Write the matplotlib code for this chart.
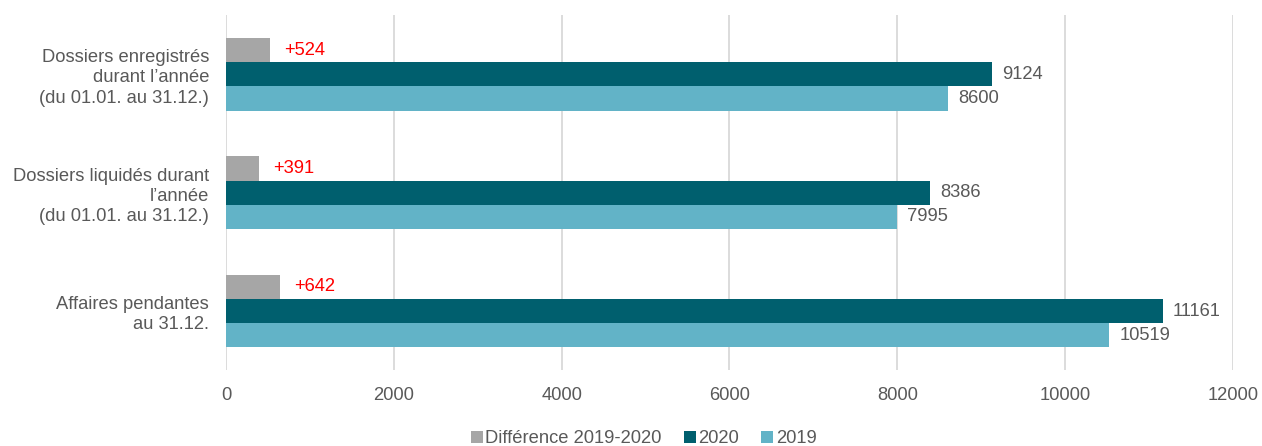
import numpy as np
import matplotlib.pyplot as plt

categories = ["Dossiers enregistrés\ndurant l\u2019année\n(du 01.01. au 31.12.)",
              "Dossiers liquidés durant\nl\u2019année\n(du 01.01. au 31.12.)",
              "Affaires pendantes\nau 31.12."]
diff = [524, 391, 642]
y2020 = [9124, 8386, 11161]
y2019 = [8600, 7995, 10519]
diff_labels = ["+524", "+391", "+642"]

plt.rcParams['font.family'] = ['Liberation Sans', 'DejaVu Sans']
txt = "#595959"
fs = 13.2

fig = plt.figure(figsize=(12.62, 4.46), dpi=100)
ax = fig.add_axes([0.179, 0.170, 0.798, 0.796])

pos = np.arange(len(categories))
h = 0.205
b1 = ax.barh(pos - h, diff, height=h, color="#A6A6A6", label="Différence 2019-2020")
b2 = ax.barh(pos, y2020, height=h, color="#005F6E", label="2020")
b3 = ax.barh(pos + h, y2019, height=h, color="#62B3C7", label="2019")

for i in range(len(categories)):
    ax.text(diff[i] + 170, pos[i] - h, diff_labels[i], color="red", fontsize=fs, va="center")
    ax.text(y2020[i] + 125, pos[i], str(y2020[i]), color=txt, fontsize=fs, va="center")
    ax.text(y2019[i] + 125, pos[i] + h, str(y2019[i]), color=txt, fontsize=fs, va="center")

ax.set_xlim(0, 12000)
ax.set_ylim(2.5, -0.5)
ax.set_xticks(range(0, 12001, 2000))
ax.set_yticks(pos)
ax.set_yticklabels(categories, fontsize=fs, color=txt, multialignment="right", linespacing=1.25)
ax.tick_params(axis="x", labelsize=fs, colors=txt, length=0, pad=12)
ax.tick_params(axis="y", length=0, pad=12)
ax.grid(axis="x", color="#D9D9D9", linewidth=1.3)
ax.set_axisbelow(True)
for s in ax.spines.values():
    s.set_visible(False)

fig.legend(handles=[b1, b2, b3], loc="lower center", bbox_to_anchor=(0.51, -0.04), ncol=3,
           frameon=False, fontsize=fs, labelcolor=txt, handlelength=0.65, handleheight=0.65,
           handletextpad=0.15, columnspacing=1.2)

fig.savefig("out.png", dpi=100)
